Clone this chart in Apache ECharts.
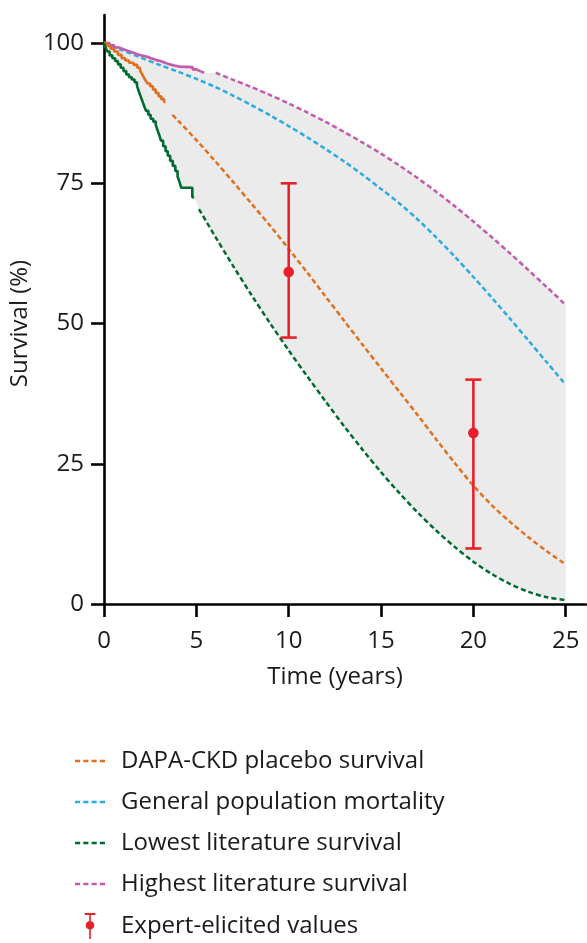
<!DOCTYPE html>
<html><head><meta charset="utf-8">
<script src="https://cdn.jsdelivr.net/npm/echarts@6/dist/echarts.min.js"></script>
<style>html,body{margin:0;padding:0;background:#fff}#c{width:587px;height:943px}</style>
</head><body><div id="c"></div>
<script>
// ---- data (time in years, survival in %) ----
const xTicks = [0, 5, 10, 15, 20, 25];
const yTicks = [0, 25, 50, 75, 100];

const dapaKM = [[0,100],[0.15,99.5],[0.35,99.0],[0.55,98.5],[0.75,97.9],[0.95,97.3],[1.15,96.9],[1.35,96.5],[1.6,96.1],[1.8,95.6],[1.95,95.1],[2.05,94.5],[2.15,93.9],[2.25,93.3],[2.35,92.8],[2.5,92.3],[2.65,91.7],[2.8,91.1],[2.95,90.5],[3.1,90.0],[3.25,89.5],[3.32,89.5]];
const dapaExtrap = [[3.7,87.2],[4,86.2],[5,82.7],[6,79.0],[7,75.2],[8,71.3],[9,67.4],[10,63.3],[11,59.1],[12,54.8],[13,50.5],[14,46.2],[15,42.0],[16,37.8],[17,33.6],[18,29.3],[19,25.1],[20,21.1],[21,17.6],[22,14.6],[23,11.85],[24,9.35],[25,7.05]];

const genPop = [[0,100],[1,98.7],[2,97.4],[3,96.1],[4,94.9],[5,93.6],[6,92.2],[7,90.6],[8,88.9],[9,87.1],[10,85.2],[11,83.2],[12,81.1],[13,78.9],[14,76.5],[15,74.0],[16,71.4],[17,68.5],[18,65.3],[19,61.9],[20,58.3],[21,54.6],[22,50.8],[23,46.9],[24,43.0],[25,39.1]];

const lowKM = [[0,100],[0.08,99.2],[0.18,98.5],[0.3,97.8],[0.45,97.3],[0.6,96.8],[0.75,96.2],[0.9,95.6],[1.05,95.0],[1.2,94.4],[1.35,93.9],[1.5,93.5],[1.65,93.0],[1.78,92.4],[1.88,91.4],[1.98,90.5],[2.08,89.6],[2.18,88.7],[2.28,87.9],[2.4,87.2],[2.52,86.5],[2.66,86.0],[2.8,85.4],[2.9,84.4],[3.0,83.5],[3.08,82.6],[3.2,81.6],[3.33,80.7],[3.45,79.9],[3.58,79.0],[3.72,78.1],[3.86,77.2],[3.98,76.2],[4.08,75.3],[4.18,74.2],[4.78,72.5],[4.88,72.5]];
const lowExtrap = [[5.14,70.4],[6,65.6],[7,60.2],[8,55.0],[9,50.0],[10,45.2],[11,40.6],[12,36.1],[13,31.7],[14,27.5],[15,23.5],[16,19.75],[17,16.25],[18,13.05],[19,10.15],[20,7.55],[21,5.35],[22,3.55],[23,2.15],[24,1.2],[25,0.7]];

const highKM = [[0,100],[0.3,99.6],[0.55,99.2],[0.8,98.9],[1.05,98.6],[1.3,98.3],[1.55,98.0],[1.8,97.8],[2.05,97.6],[2.3,97.3],[2.55,97.0],[2.8,96.8],[3.05,96.5],[3.3,96.2],[3.55,96.0],[3.8,95.8],[4.1,95.7],[4.8,95.3],[5.0,95.0],[5.2,94.7],[5.42,94.7]];
const highExtrap = [[6.05,94.7],[7,93.44],[8,92.13],[9,90.73],[10,89.23],[11,87.63],[12,85.94],[13,84.15],[14,82.26],[15,80.28],[16,78.15],[17,75.88],[18,73.46],[19,70.89],[20,68.18],[21,65.37],[22,62.47],[23,59.47],[24,56.42],[25,53.32]];

// expert-elicited: [time, mean, low, high]
const expert = [[10,59.2,47.5,75],[20,30.5,9.9,40]];

const names = ['DAPA-CKD placebo survival','General population mortality','Lowest literature survival','Highest literature survival','Expert-elicited values'];
const colors = {orange:'#E0701F', blue:'#2BABE2', green:'#006B30', magenta:'#C35AAE', red:'#E8202A', band:'#EBEBEB'};

// ---- helpers ----
function stepExpand(arr){
  const out = [];
  for (let i = 0; i < arr.length; i++){
    if (i > 0) out.push([arr[i][0], arr[i-1][1]]);
    out.push(arr[i]);
  }
  return out;
}
const bandUpper = stepExpand(highKM).concat(highExtrap);
const bandLower = stepExpand(lowKM).concat(lowExtrap);
const bandPoly = bandUpper.concat(bandLower.slice().reverse());

const FONT = 'Open Sans';
const FS = 24;
const dashW = 2.5, dash = [5, 3];
const dashIcon = 'path://M0,0h5v2.6h-5z M8,0h5v2.6h-5z M16,0h5v2.6h-5z M24,0h5v2.6h-5z';
const errIcon = 'path://M0,0h13v2.6h-13z M5.5,2.6h2v29.4h-2z M1.2,15a5.3,5.3 0 1,1 10.6,0a5.3,5.3 0 1,1 -10.6,0z';

function kmSeries(name, data, color){
  return {type:'line', name, data, step:'end', showSymbol:false, symbol:'none', z:4,
    lineStyle:{color, width:2.6}, itemStyle:{color}, silent:true};
}
function dashSeries(name, data, color){
  return {type:'line', name, data, smooth:0.3, showSymbol:false, symbol:'none', z:3,
    lineStyle:{color, width:dashW, type:dash}, itemStyle:{color}, silent:true};
}

const chart = echarts.init(document.getElementById('c'), null, {renderer:'canvas'});
chart.setOption({
  animation:false,
  backgroundColor:'#fff',
  grid:{left:103, right:1, top:15, bottom:339, containLabel:false},
  xAxis:{type:'value', min:0, max:26.1, interval:5,
    axisLine:{lineStyle:{color:'#000', width:2.6}},
    axisTick:{length:13, customValues:xTicks, lineStyle:{color:'#000', width:2.6}},
    axisLabel:{customValues:xTicks, margin:25, fontSize:FS, color:'#1a1a1a', fontFamily:FONT},
    splitLine:{show:false},
    name:'Time (years)', nameLocation:'middle', nameGap:61,
    nameTextStyle:{fontSize:FS, color:'#1a1a1a', fontFamily:FONT, padding:[0,20,0,0]}
  },
  yAxis:{type:'value', min:0, max:105, interval:25,
    axisLine:{show:true, lineStyle:{color:'#000', width:2.6}},
    axisTick:{show:true, length:13, customValues:yTicks, lineStyle:{color:'#000', width:2.6}},
    axisLabel:{customValues:yTicks, margin:20, fontSize:FS, color:'#1a1a1a', fontFamily:FONT},
    splitLine:{show:false},
    name:'Survival (%)', nameLocation:'middle', nameGap:67,
    nameTextStyle:{fontSize:FS, color:'#1a1a1a', fontFamily:FONT, padding:[0,28,0,0]}
  },
  legend:{orient:'vertical', left:75, top:749, padding:0, itemWidth:30, itemHeight:26, itemGap:17,
    height:194,
    symbolKeepAspect:true, selectedMode:false,
    itemStyle:{borderWidth:0},
    textStyle:{fontSize:FS, lineHeight:24, color:'#1a1a1a', fontFamily:FONT, padding:[0,0,0,11]},
    data:[
      {name:names[0], icon:dashIcon},
      {name:names[1], icon:dashIcon},
      {name:names[2], icon:dashIcon},
      {name:names[3], icon:dashIcon},
      {name:names[4], icon:errIcon}
    ]
  },
  series:[
    {type:'custom', name:'band', data:[[0,0]], z:1, silent:true, clip:true,
      renderItem:function(params, api){
        const pts = bandPoly.map(p => api.coord(p));
        return {type:'polygon', shape:{points:pts}, style:{fill:colors.band}};
      }
    },
    dashSeries(names[1], genPop, colors.blue),
    dashSeries(names[3], highExtrap, colors.magenta),
    dashSeries(names[0], dapaExtrap, colors.orange),
    dashSeries(names[2], lowExtrap, colors.green),
    kmSeries(names[3], highKM, colors.magenta),
    kmSeries(names[0], dapaKM, colors.orange),
    kmSeries(names[2], lowKM, colors.green),
    {type:'custom', name:names[4], data:expert, z:6, silent:true,
      itemStyle:{color:colors.red},
      encode:{x:0, y:[1,2,3]},
      renderItem:function(params, api){
        const x = api.value(0), m = api.value(1), lo = api.value(2), hi = api.value(3);
        const pH = api.coord([x, hi]), pL = api.coord([x, lo]), pM = api.coord([x, m]);
        const cw = 8;
        const st = {stroke:colors.red, lineWidth:2.6};
        return {type:'group', children:[
          {type:'line', shape:{x1:pH[0], y1:pH[1], x2:pL[0], y2:pL[1]}, style:st},
          {type:'line', shape:{x1:pH[0]-cw, y1:pH[1], x2:pH[0]+cw, y2:pH[1]}, style:st},
          {type:'line', shape:{x1:pL[0]-cw, y1:pL[1], x2:pL[0]+cw, y2:pL[1]}, style:st},
          {type:'circle', shape:{cx:pM[0], cy:pM[1], r:5.3}, style:{fill:colors.red}}
        ]};
      }
    }
  ]
});
</script>
</body></html>
